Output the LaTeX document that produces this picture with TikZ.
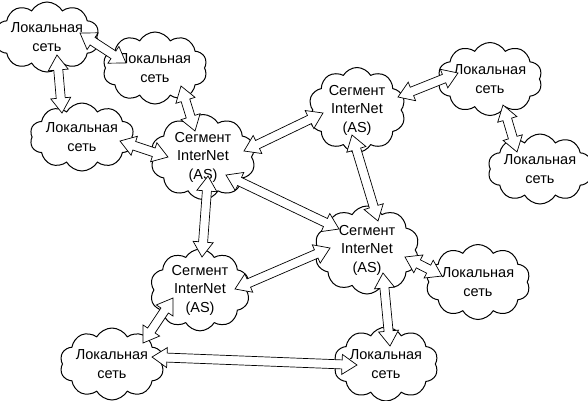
\documentclass[tikz,border=0pt]{standalone}
\usepackage{fontspec}
\setmainfont{Liberation Sans}
\usetikzlibrary{shapes.symbols,calc}
\tikzset{
  cl/.style={cloud, draw, fill=white, line width=1pt, cloud puffs=10, cloud puff arc=120,
    cloud ignores aspect, inner sep=0pt, align=center,
    font=\fontsize{14.5}{18.5}\selectfont},
  linkstyle/.style={draw, fill=white, line width=0.7pt, line join=miter}
}
\newcommand\link[2]{%
  \path[linkstyle] let \p1=($#1$), \p2=($#2$),
      \n1={atan2(\y2-\y1,\x2-\x1)}, \n2={veclen(\x2-\x1,\y2-\y1)} in
    (\p1) -- ++({\n1+33.69}:18.03pt) -- ++({\n1-90}:5.5pt)
      -- ++({\n1}:{(\n2-30)*1pt}) -- ++({\n1+90}:5.5pt)
      -- ++({\n1-33.69}:18.03pt) -- ++({\n1+213.69}:18.03pt)
      -- ++({\n1+90}:5.5pt) -- ++({\n1+180}:{(\n2-30)*1pt})
      -- ++({\n1-90}:5.5pt) -- cycle;%
}
\begin{document}
\begin{tikzpicture}[x=1pt,y=-1pt]
\useasboundingbox (0,0) rectangle (588,400);
% local networks
\node[cl, minimum width=95pt, minimum height=70pt] (L1) at (47,37) {Локальная\\сеть};
\node[cl, minimum width=92pt, minimum height=72pt] (L2) at (155,68) {Локальная\\сеть};
\node[cl, minimum width=93pt, minimum height=68pt] (L3) at (82,137) {Локальная\\сеть};
\node[cl, minimum width=98pt, minimum height=73pt] (L4) at (490,79) {Локальная\\сеть};
\node[cl, minimum width=95pt, minimum height=70pt] (L5) at (540,169) {Локальная\\сеть};
\node[cl, minimum width=97pt, minimum height=75pt] (L6) at (478,282) {Локальная\\сеть};
\node[cl, minimum width=92pt, minimum height=72pt] (L7) at (112,364) {Локальная\\сеть};
\node[cl, minimum width=92pt, minimum height=74pt] (L8) at (386,364) {Локальная\\сеть};
% internet segments
\node[cl, minimum width=105pt, minimum height=85pt] (S1) at (203,157) {Сегмент\\InterNet\\(AS)};
\node[cl, minimum width=97pt, minimum height=85pt] (S2) at (357,110) {Сегмент\\InterNet\\(AS)};
\node[cl, minimum width=105pt, minimum height=88pt] (S3) at (367,250) {Сегмент\\InterNet\\(AS)};
\node[cl, minimum width=100pt, minimum height=80pt] (S4) at (200,290) {Сегмент\\InterNet\\(AS)};
% connectors
\link{(L1)+(10,18)}{(L3)+(-20,-24)}
\link{(L1)+(33,-4)}{(L2)+(-29,-5)}
\link{(L2)+(26,18)}{(S1)+(-8,-26)}
\link{(L3)+(38,4)}{(S1)+(-35,0)}
\link{(S1)+(41,-6)}{(S2)+(-34,3)}
\link{(S1)+(23,18)}{(S3)+(-28,-21)}
\link{(S1)+(5,19)}{(S4)+(2,-33)}
\link{(S2)+(-5,25)}{(S3)+(11,-29)}
\link{(S2)+(41,-13)}{(L4)+(-32,-6)}
\link{(L4)+(13,26)}{(L5)+(-23,-17)}
\link{(S3)+(-37,-2)}{(S4)+(35,-1)}
\link{(S3)+(38,7)}{(L6)+(-36,-6)}
\link{(S3)+(16,23)}{(L8)+(4,-18)}
\link{(S4)+(-27,8)}{(L7)+(31,-21)}
\link{(L7)+(40,-7)}{(L8)+(-29,1)}
\end{tikzpicture}
\end{document}
